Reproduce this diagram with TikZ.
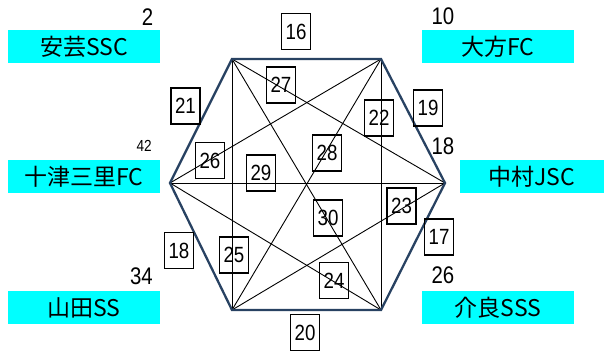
\documentclass[tikz,border=0pt]{standalone}
\usepackage{fontspec}
\setmainfont{Liberation Sans}
\newfontfamily\jpfont{Noto Sans CJK JP}
\newfontfamily\numfont[FakeStretch=0.85]{Liberation Sans}
\definecolor{edgeblue}{RGB}{40,66,98}
\definecolor{teamcyan}{RGB}{0,255,255}

\begin{document}
\begin{tikzpicture}[x=1pt, y=-1pt,
    team/.style={fill=teamcyan, minimum width=152pt, minimum height=33pt, inner sep=0pt,
      font=\jpfont\fontsize{23}{23}\selectfont},
    score/.style={anchor=east, inner sep=0pt, font=\numfont\fontsize{24}{24}\selectfont},
    game/.style={draw, line width=1.2pt, minimum width=29pt, minimum height=36pt, inner sep=0pt,
      font=\numfont\fontsize{22}{22}\selectfont},
    side/.style={draw=edgeblue, line width=2.3pt},
    cross/.style={draw=black, line width=0.9pt}]
        \useasboundingbox (0,0) rectangle (608,353);

        % teams
        \node [team] (t1) at (84,46.7) {安芸SSC};
        \node [team] (t2) at (498,46.7) {大方FC};
        \node [team] (t3) at (84,176.7) {十津三里FC};
        \node [team, minimum width=144pt] (t4) at (532,176.7) {中村JSC};
        \node [team] (t5) at (84,307.7) {山田SS};
        \node [team] (t6) at (498,307.7) {介良SSS};

        \node [score] (s1) at (153.5,16.7) {2};
        \node [score] (s2) at (454.5,16.5) {10};
        \node [score, font=\numfont\fontsize{16}{16}\selectfont] (s3) at (152,146) {42};
        \node [score] (s4) at (454.5,146.5) {18};
        \node [score] (s5) at (153,276) {34};
        \node [score] (s6) at (454.5,275.7) {26};

        % hexagon corners
        \coordinate (aki) at (232,59);
        \coordinate (ogata) at (381,59);
        \coordinate (totsu) at (170,183);
        \coordinate (naka) at (445,183);
        \coordinate (yama) at (232,310);
        \coordinate (kera) at (381,310);

        \draw[cross] (aki) -- (yama);
        \draw[cross] (aki) -- (kera);
        \draw[cross] (aki) -- (naka);
        \draw[cross] (ogata) -- (totsu);
        \draw[cross] (ogata) -- (yama);
        \draw[cross] (ogata) -- (kera);
        \draw[cross] (totsu) -- (naka);
        \draw[cross] (totsu) -- (kera);
        \draw[cross] (yama) -- (naka);

        \draw[side] (aki) -- (ogata) -- (naka) -- (kera) -- (yama) -- (totsu) -- cycle;

        % games
        \node [game] (g16) at (296,31.7) {16};
        \node [game] (g21) at (185.5,106) {21};
        \node [game] (g19) at (428,108) {19};
        \node [game] (g27) at (281,85) {27};
        \node [game] (g22) at (379,118) {22};
        \node [game] (g26) at (210,160.5) {26};
        \node [game] (g29) at (261,173) {29};
        \node [game] (g28) at (327,153) {28};
        \node [game] (g30) at (328,218) {30};
        \node [game] (g23) at (401.5,206) {23};
        \node [game] (g17) at (439,237) {17};
        \node [game] (g18) at (179,250.7) {18};
        \node [game] (g25) at (234,255) {25};
        \node [game] (g24) at (334,280.5) {24};
        \node [game] (g20) at (305,332.5) {20};
      \end{tikzpicture}
\end{document}
